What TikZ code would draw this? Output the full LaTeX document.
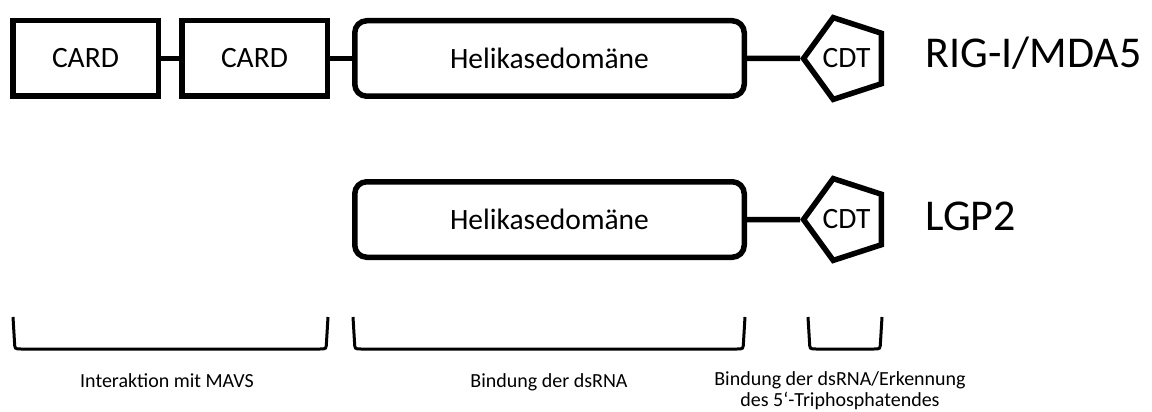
\documentclass[tikz,border=0pt]{standalone}
\usepackage{fontspec}
\setmainfont{Carlito}
\usetikzlibrary{shapes.geometric}
\begin{document}
\begin{tikzpicture}[x=1pt, y=-1pt,
  dom/.style={draw, line width=5.5pt, minimum width=145.5pt, minimum height=75.5pt,
    inner sep=0pt, font=\fontsize{29.5}{32}\selectfont},
  heli/.style={dom, minimum width=389.5pt, rounded corners=12pt},
  cdt/.style={draw, line width=5.5pt, regular polygon, regular polygon sides=5,
    shape border rotate=90, minimum size=86pt, inner sep=0pt, font=\fontsize{29.5}{32}\selectfont},
  link/.style={line width=5.5pt},
  brack/.style={line width=3pt},
  title/.style={anchor=base west, font=\fontsize{44}{48}\selectfont},
  lbl/.style={anchor=base, align=center, font=\fontsize{20}{21}\selectfont}]
\useasboundingbox (0,0) rectangle (1152,412);

\node[dom] (card1) at (85.5,58.5) {CARD};
\node[dom] (card2) at (254.5,58.5) {CARD};
\node[heli] (heli1) at (549.5,58.5) {Helikasedomäne};
\node[cdt] (cdt1) at (846.5,58.5) {CDT};
\draw[link] (card1.east) -- (card2.west);
\draw[link] (card2.east) -- (heli1.west);
\draw[link] (heli1.east) -- (cdt1.west);
\node[title] (rig) at (922,68) {RIG-I/MDA5};

\node[heli] (heli2) at (549.5,219.5) {Helikasedomäne};
\node[cdt] (cdt2) at (846.5,219.5) {CDT};
\draw[link] (heli2.east) -- (cdt2.west);
\node[title] (lgp) at (922,230) {LGP2};

\draw[brack] (13,317) -- (14.5,342) .. controls (14.8,349) .. (21,349) -- (320,349)
  .. controls (326.2,349) .. (326.5,342) -- (328,317);
\draw[brack] (353,317) -- (354.5,342) .. controls (354.8,349) .. (361,349) -- (737,349)
  .. controls (743.2,349) .. (743.5,342) -- (745,317);
\draw[brack] (808,317) -- (809.5,342) .. controls (809.8,349) .. (816,349) -- (874,349)
  .. controls (880.2,349) .. (880.5,342) -- (882,317);

\node[lbl] (mavs) at (167,387) {Interaktion mit MAVS};
\node[lbl] (bind) at (549,387) {Bindung der dsRNA};
\node[lbl] (erk) at (840,406) {Bindung der dsRNA/Erkennung\\des 5‘-Triphosphatendes};
\end{tikzpicture}
\end{document}
